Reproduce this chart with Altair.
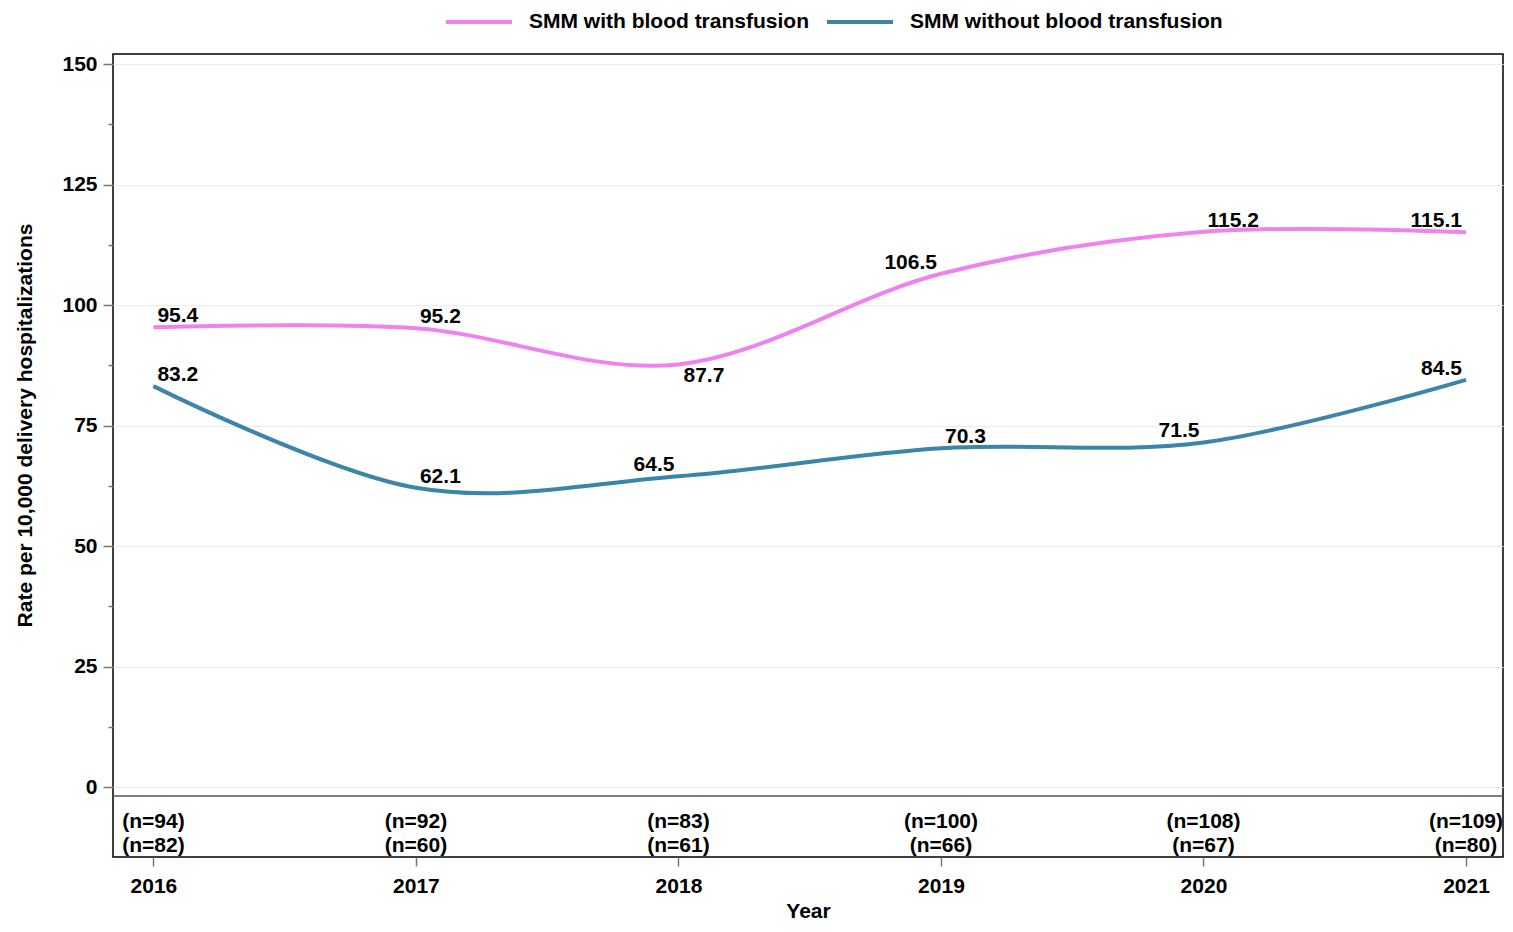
import altair as alt
import pandas as pd

years = [2016, 2017, 2018, 2019, 2020, 2021]
series_names = ["SMM with blood transfusion", "SMM without blood transfusion"]
with_rate = [95.4, 95.2, 87.7, 106.5, 115.2, 115.1]
without_rate = [83.2, 62.1, 64.5, 70.3, 71.5, 84.5]
with_n = [94, 92, 83, 100, 108, 109]
without_n = [82, 60, 61, 66, 67, 80]
# label placement codes: ar = above-right, al = above-left, br = below-right
with_pos = ["ar", "ar", "br", "al", "ar", "al"]
without_pos = ["ar", "ar", "al", "ar", "al", "al"]
colors = ["#EE82EE", "#3A85A8"]

rows = []
for i, y in enumerate(years):
    rows.append({"year": y, "series": series_names[0], "rate": with_rate[i],
                 "label": f"{with_rate[i]:.1f}", "pos": with_pos[i]})
    rows.append({"year": y, "series": series_names[1], "rate": without_rate[i],
                 "label": f"{without_rate[i]:.1f}", "pos": without_pos[i]})
df = pd.DataFrame(rows)

ndf = pd.DataFrame({
    "year": years,
    "n1": [f"(n={v})" for v in with_n],
    "n2": [f"(n={v})" for v in without_n],
})

FONT = "Liberation Sans"
FS = 21

xscale = alt.Scale(domain=[2015.846, 2021.141], nice=False, zero=False)
yscale = alt.Scale(domain=[-14.5, 152.1], nice=False, zero=False)

yticks = [i * 12.5 for i in range(13)]

x_enc = alt.X("year:Q", scale=xscale, title="Year",
              axis=alt.Axis(values=years, format="d", grid=False, domain=False,
                            tickSize=9, tickColor="#777777", tickWidth=1.5,
                            labelPadding=9, titlePadding=4))
y_enc = alt.Y("rate:Q", scale=yscale,
              title="Rate per 10,000 delivery hospitalizations",
              axis=alt.Axis(values=yticks, domain=False,
                            labelExpr="datum.value % 25 === 0 ? format(datum.value, 'd') : ''",
                            tickSize={"condition": {"test": "datum.value % 25 !== 0", "value": 5}, "value": 10},
                            tickColor="#777777", tickWidth=1.5,
                            gridColor="#EBEBEB",
                            gridOpacity={"condition": {"test": "datum.value % 25 !== 0", "value": 0}, "value": 1},
                            labelPadding=6, titlePadding=26, titleY=371))

color_enc = alt.Color("series:N",
                      scale=alt.Scale(domain=series_names, range=colors),
                      legend=alt.Legend(title=None, orient="none", direction="horizontal",
                                        legendX=331, legendY=-67,
                                        symbolType="stroke", symbolSize=4356,
                                        symbolStrokeWidth=4, labelOffset=15,
                                        columnPadding=10, padding=0,
                                        labelFont=FONT, labelFontSize=FS,
                                        labelFontWeight="bold", labelColor="black",
                                        labelLimit=500))

base = alt.Chart(df)

lines = base.mark_line(strokeWidth=4, interpolate="cardinal").encode(
    x=x_enc, y=y_enc, color=color_enc)

text_common = dict(font=FONT, fontSize=FS, fontWeight="bold", color="black",
                   baseline="alphabetic")
lab_ar = base.transform_filter("datum.pos === 'ar'").mark_text(
    align="left", dx=4, dy=-5, **text_common).encode(x="year:Q", y="rate:Q", text="label:N")
lab_al = base.transform_filter("datum.pos === 'al'").mark_text(
    align="right", dx=-4, dy=-5, **text_common).encode(x="year:Q", y="rate:Q", text="label:N")
lab_br = base.transform_filter("datum.pos === 'br'").mark_text(
    align="left", dx=5, dy=18, **text_common).encode(x="year:Q", y="rate:Q", text="label:N")

sep = alt.Chart(pd.DataFrame({"v": [-1.87]})).mark_rule(color="#555555", strokeWidth=1.5).encode(
    y=alt.Y("v:Q", scale=yscale))

nbase = alt.Chart(ndf)
n1 = nbase.mark_text(align="center", baseline="middle", font=FONT, fontSize=FS,
                     fontWeight="bold", color="black").encode(
    x="year:Q", y=alt.datum(-7.3), text="n1:N")
n2 = nbase.mark_text(align="center", baseline="middle", font=FONT, fontSize=FS,
                     fontWeight="bold", color="black").encode(
    x="year:Q", y=alt.datum(-12.3), text="n2:N")

chart = alt.layer(sep, lines, lab_ar, lab_al, lab_br, n1, n2).properties(
    width=1390, height=803,
    autosize=alt.AutoSizeParams(type="none"),
    padding={"left": 105, "top": 46, "right": 2, "bottom": 66},
).configure_view(stroke="black", strokeWidth=1.5).configure_axis(
    labelFont=FONT, labelFontSize=FS, labelFontWeight="bold", labelColor="black",
    titleFont=FONT, titleFontSize=FS, titleFontWeight="bold", titleColor="black",
)

chart.save("out.html", embed_options={"renderer": "svg", "actions": False})
